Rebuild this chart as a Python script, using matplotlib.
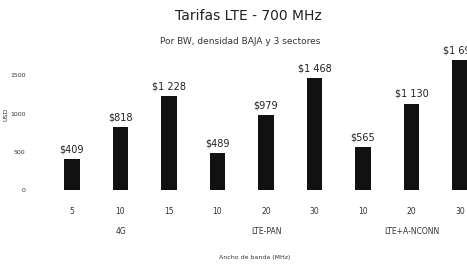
import matplotlib
matplotlib.use("Agg")
import matplotlib.pyplot as plt
import matplotlib.transforms as mtransforms

# Datos
grupos = ["4G", "LTE-PAN", "LTE+A-NCONN"]
anchos = ["5", "10", "15", "10", "20", "30", "10", "20", "30"]
tarifas = [409, 818, 1228, 489, 979, 1468, 565, 1130, 1695]
yticks = [0, 500, 1000, 1500]

W, H = 467, 266
fig = plt.figure(figsize=(W / 100, H / 100), dpi=100)

# ejes en pixeles: base de barras en y=190, borde izq x=48
x0 = 72
paso = 48.5
xmin = -0.5
xmax = (W - x0) / paso
left = (x0 + xmin * paso) / W
base = (H - 190) / H
ymax = 1750
alto = ymax * 0.0765 / H
ax = fig.add_axes([left, base, 1.0 - left, alto])

pos = list(range(len(tarifas)))
ax.bar(pos, tarifas, width=0.31, color="#111111")
for x, v in zip(pos, tarifas):
    etiqueta = "$" + f"{v:,}".replace(",", " ")
    ax.text(x, v + 60, etiqueta, ha="center", va="bottom", fontsize=7,
            color="#222222", clip_on=False)

ax.set_xlim(xmin, xmax)
ax.set_ylim(0, ymax)
ax.set_xticks(pos)
ax.set_xticklabels(anchos, fontsize=5.5, color="#333333")
ax.set_yticks(yticks)
ax.set_yticklabels([str(t) for t in yticks], fontsize=4.5, color="#333333")
ax.tick_params(axis="both", length=0)
ax.tick_params(axis="x", pad=12)
ax.tick_params(axis="y", pad=16)
for s in ax.spines.values():
    s.set_visible(False)

trans = mtransforms.blended_transform_factory(ax.transData, fig.transFigure)
for i, g in enumerate(grupos):
    xc = i * 3 + 1
    ax.text(xc, 1 - 232 / H, g, transform=trans, ha="center", va="center",
            fontsize=5.5, color="#333333")

fig.text(255 / W, 1 - 257 / H, "Ancho de banda (MHz)", ha="center", va="center",
         fontsize=4.5, color="#333333")
fig.text(6 / W, 1 - 114 / H, "USD", ha="center", va="center", rotation=90,
         fontsize=4.5, color="#333333")

fig.text(248 / W, 1 - 16 / H, "Tarifas LTE - 700 MHz", ha="center", va="center",
         fontsize=10, color="#222222")
fig.text(240 / W, 1 - 41 / H, "Por BW, densidad BAJA y 3 sectores", ha="center",
         va="center", fontsize=6.5, color="#333333")

fig.savefig("out.png", dpi=100)
